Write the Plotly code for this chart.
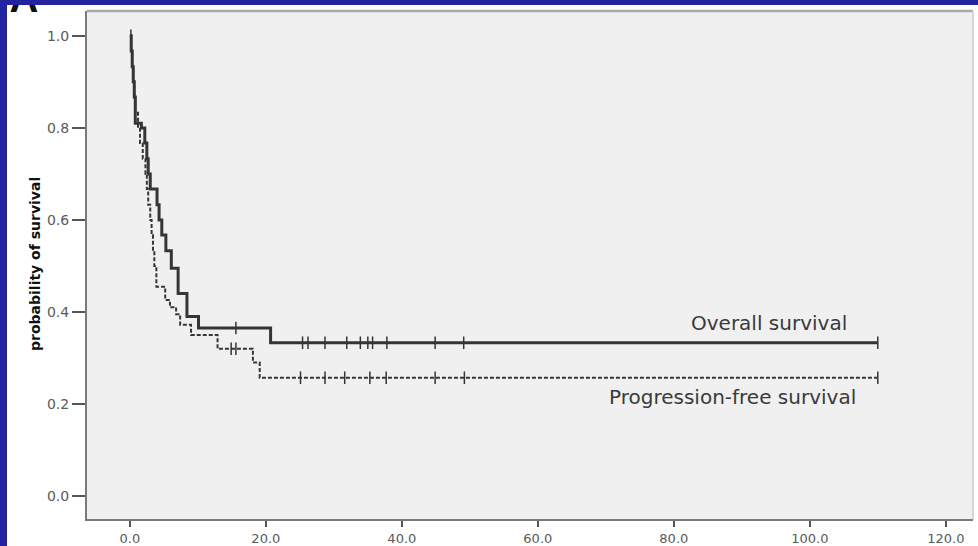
import plotly.graph_objects as go

# Kaplan-Meier step curves (months, survival probability)
os_time = [0, 0.2, 0.35, 0.5, 0.65, 0.8, 1.7, 2.2, 2.5, 2.7, 3.0, 4.0, 4.3, 4.7,
           5.3, 6.1, 7.1, 8.4, 10.1, 20.7, 110]
os_surv = [1.0, 0.967, 0.933, 0.9, 0.867, 0.81, 0.8, 0.767, 0.733, 0.7, 0.667, 0.633,
           0.6, 0.567, 0.533, 0.495, 0.44, 0.39, 0.365, 0.333, 0.333]

pfs_time = [0, 0.2, 0.35, 0.5, 0.65, 0.8, 1.2, 1.5, 1.9, 2.3, 2.5, 2.7, 3.0, 3.2,
            3.4, 3.6, 3.9, 5.2, 5.9, 6.8, 7.4, 9.0, 12.9, 18.1, 19.1, 110]
pfs_surv = [1.0, 0.967, 0.933, 0.9, 0.867, 0.833, 0.8, 0.767, 0.733, 0.7, 0.667, 0.633,
            0.6, 0.567, 0.533, 0.5, 0.455, 0.426, 0.41, 0.395, 0.372, 0.35, 0.32, 0.29,
            0.257, 0.257]

# censored observations (months)
os_censored = [0.15, 15.6, 25.4, 26.2, 28.7, 31.9, 33.9, 35.0, 35.7, 37.8, 44.9, 49.1, 110]
pfs_censored = [14.9, 15.6, 25.1, 28.7, 31.6, 35.3, 37.7, 44.9, 49.2, 110]

x_ticks = [0, 20, 40, 60, 80, 100, 120]
y_ticks = [0.0, 0.2, 0.4, 0.6, 0.8, 1.0]

LINE = "#353535"
BLUE = "#2323a0"
W, H = 978, 546


def level_at(times, surv, t):
    """Survival level of a step curve at time t."""
    s = surv[0]
    for ti, si in zip(times, surv):
        if ti <= t:
            s = si
    return s


fig = go.Figure()

fig.add_trace(go.Scatter(x=pfs_time, y=pfs_surv, mode="lines", line_shape="hv",
                         line=dict(color=LINE, width=2, dash="4px,2px"),
                         showlegend=False, hoverinfo="skip"))
fig.add_trace(go.Scatter(x=pfs_censored,
                         y=[level_at(pfs_time, pfs_surv, t) for t in pfs_censored],
                         mode="markers",
                         marker=dict(symbol="line-ns-open", size=9, color=LINE,
                                     line=dict(color=LINE, width=1.5)),
                         showlegend=False, hoverinfo="skip"))

fig.add_trace(go.Scatter(x=os_time, y=os_surv, mode="lines", line_shape="hv",
                         line=dict(color=LINE, width=3),
                         showlegend=False, hoverinfo="skip"))
fig.add_trace(go.Scatter(x=os_censored,
                         y=[level_at(os_time, os_surv, t) for t in os_censored],
                         mode="markers",
                         marker=dict(symbol="line-ns-open", size=9, color=LINE,
                                     line=dict(color=LINE, width=1.5)),
                         showlegend=False, hoverinfo="skip"))

# panel letter in the top-left corner (own hidden axes, measured in pixels),
# partly hidden under the slide border
fig.add_trace(go.Scatter(x=[24], y=[50 - 22], mode="text", text=["<b>A</b>"],
                         textposition="top center", cliponaxis=False,
                         textfont=dict(family="Liberation Sans", size=40, color="#111111"),
                         xaxis="x2", yaxis="y2",
                         showlegend=False, hoverinfo="skip"))

tick_font = dict(family="DejaVu Sans", size=14, color="#5a5a5a")

fig.update_layout(
    width=W, height=H,
    margin=dict(l=0, r=0, t=0, b=0),
    paper_bgcolor="white",
    plot_bgcolor="rgba(0,0,0,0)",
    xaxis=dict(domain=[87 / W, 973 / W], range=[-6.3, 124], tickvals=x_ticks,
               ticktext=[f"{v:.1f}" for v in x_ticks],
               ticks="outside", ticklen=6, tickwidth=1.5, tickcolor="#555555",
               automargin=False,
               showline=True, linecolor="#7a7a7a", linewidth=2,
               showgrid=False, zeroline=False,
               tickfont=dict(family="DejaVu Sans", size=13, color="#5a5a5a")),
    yaxis=dict(domain=[27 / H, 535 / H], range=[-0.05, 1.054], tickvals=y_ticks,
               ticktext=[f"{v:.1f}" for v in y_ticks],
               ticks="outside", ticklen=13, tickwidth=1.5, tickcolor="#555555",
               automargin=False,
               showline=True, linecolor="#7a7a7a", linewidth=2,
               showgrid=False, zeroline=False, tickfont=tick_font),
    xaxis2=dict(domain=[0, 80 / W], range=[0, 80], anchor="y2", visible=False,
                fixedrange=True),
    yaxis2=dict(domain=[1 - 50 / H, 1], range=[0, 50], anchor="x2", visible=False,
                fixedrange=True),
    shapes=[
        # light grey plotting panel
        dict(type="rect", xref="x domain", yref="y domain", x0=0, x1=1, y0=0, y1=1,
             fillcolor="#f0f0f0", line=dict(width=0), layer="below"),
        # top and right frame of the plotting panel
        dict(type="line", xref="x domain", yref="y domain", x0=0, x1=1, y0=1, y1=1,
             line=dict(color="#a8a8a8", width=2.5)),
        dict(type="line", xref="x domain", yref="y domain", x0=1, x1=1, y0=0, y1=1,
             line=dict(color="#d6d6d6", width=2)),
        # blue slide border, left and top
        dict(type="rect", xref="paper", yref="paper", x0=0, x1=7 / W, y0=0, y1=1,
             fillcolor=BLUE, line=dict(width=0), layer="above"),
        dict(type="rect", xref="paper", yref="paper", x0=0, x1=1, y0=1 - 5 / H, y1=1,
             fillcolor=BLUE, line=dict(width=0), layer="above"),
    ],
    annotations=[
        dict(text="probability of survival", xref="paper", yref="paper",
             x=35 / W, y=1 - 264 / H, xanchor="center", yanchor="middle",
             textangle=-90, showarrow=False,
             font=dict(family="DejaVu Sans", size=14, color="#111111", weight="bold")),
        dict(text="Overall survival", xref="x", yref="y", x=94.0, y=0.377,
             showarrow=False,
             font=dict(family="DejaVu Sans", size=20, color="#3a3a3a")),
        dict(text="Progression-free survival", xref="x", yref="y", x=88.7, y=0.216,
             showarrow=False,
             font=dict(family="DejaVu Sans", size=20, color="#3a3a3a")),
    ],
)

fig.write_html("out.html")
